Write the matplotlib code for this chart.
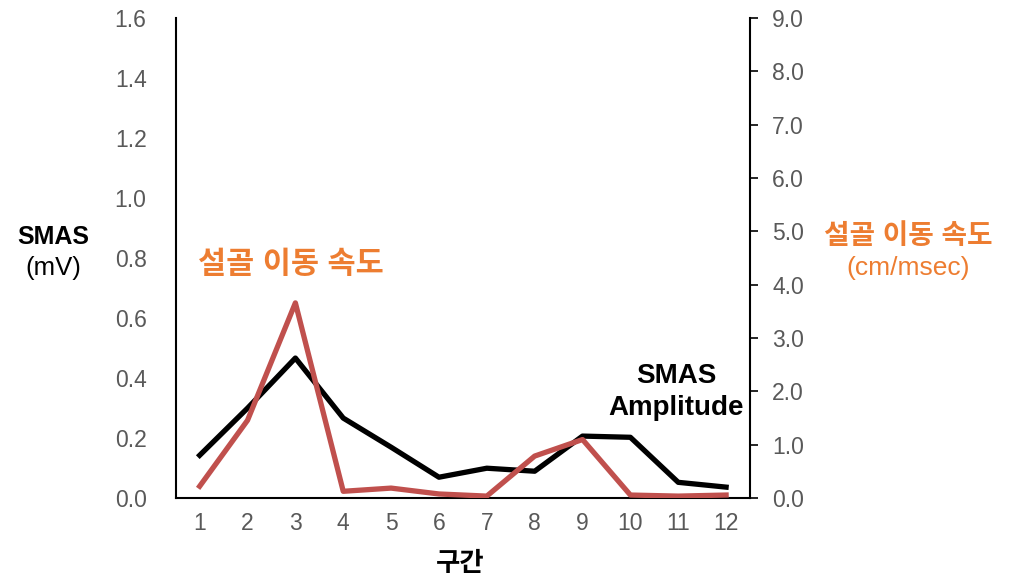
import matplotlib.pyplot as plt
import numpy as np

plt.rcParams['font.family'] = ['Liberation Sans', 'Noto Sans CJK KR', 'DejaVu Sans']

segments = ['1', '2', '3', '4', '5', '6', '7', '8', '9', '10', '11', '12']
smas_amp = [0.143, 0.30, 0.467, 0.267, 0.17, 0.07, 0.10, 0.09, 0.207, 0.203, 0.053, 0.037]
hyoid_speed = [0.225, 1.46, 3.66, 0.13, 0.19, 0.08, 0.04, 0.79, 1.1, 0.06, 0.04, 0.06]

left_ticks = np.arange(0, 1.61, 0.2)
right_ticks = np.arange(0, 9.01, 1.0)

grey = '#595959'
red = '#C0504D'
orange = '#ED7D31'

fig = plt.figure(figsize=(10.1, 5.76), dpi=100)
ax = fig.add_axes([0.174, 0.135, 0.5686, 0.834])
ax2 = ax.twinx()

x = np.arange(1, len(segments) + 1)
ax.plot(x, smas_amp, color='black', lw=3.8, zorder=3)
ax2.plot(x, hyoid_speed, color=red, lw=3.8)

ax.set_xlim(0.5, 12.5)
ax.set_ylim(0, 1.6)
ax2.set_ylim(0, 9.0)
ax.set_xticks(x)
ax.set_xticklabels(segments)
ax.set_yticks(left_ticks)
ax.set_yticklabels([f'{v:.1f}' for v in left_ticks])
ax2.set_yticks(right_ticks)
ax2.set_yticklabels([f'{v:.1f}' for v in right_ticks])

for a in (ax, ax2):
    a.spines['top'].set_visible(False)
    a.tick_params(labelsize=16.5, labelcolor=grey)
ax.spines['right'].set_visible(False)
ax2.spines['left'].set_visible(False)
ax2.spines['bottom'].set_visible(False)
ax.spines['left'].set_linewidth(1.5)
ax.spines['bottom'].set_linewidth(1.5)
ax2.spines['right'].set_linewidth(1.5)
ax.tick_params(axis='y', length=0, pad=21)
ax.tick_params(axis='x', length=0, pad=10)
ax2.tick_params(axis='y', length=6, width=1.2, pad=10, direction='out')

fig.text(460, 576 - 564, '구간', transform=None, fontsize=19, fontweight='bold',
         ha='center', va='center')
fig.text(53, 576 - 237, 'SMAS', transform=None, fontsize=18, fontweight='bold',
         ha='center', va='center')
fig.text(53, 576 - 268, '(mV)', transform=None, fontsize=18.5,
         ha='center', va='center')
fig.text(291, 576 - 265, '설골 이동 속도', transform=None, fontsize=22, fontweight='bold',
         color=orange, ha='center', va='center')
fig.text(908, 576 - 237, '설골 이동 속도', transform=None, fontsize=20, fontweight='bold',
         color=orange, ha='center', va='center')
fig.text(908, 576 - 268, '(cm/msec)', transform=None, fontsize=19,
         color=orange, ha='center', va='center')
fig.text(676, 576 - 392, 'SMAS\nAmplitude', transform=None, fontsize=20, fontweight='bold',
         ha='center', va='center', linespacing=1.3)

fig.savefig('out.png', dpi=100)
